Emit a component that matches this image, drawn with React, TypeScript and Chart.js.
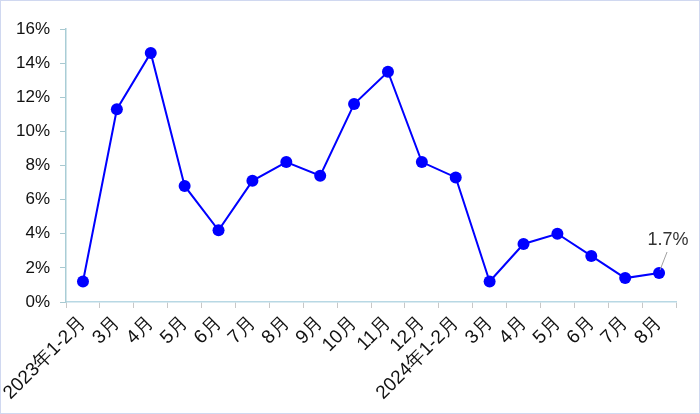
import React, { useEffect, useRef } from "react";
import { Chart, registerables } from "chart.js";

Chart.register(...registerables);

const categories = [
  "2023年1-2月", "3月", "4月", "5月", "6月", "7月", "8月", "9月", "10月", "11月", "12月",
  "2024年1-2月", "3月", "4月", "5月", "6月", "7月", "8月",
];
const growth = [1.2, 11.3, 14.6, 6.8, 4.2, 7.1, 8.2, 7.4, 11.6, 13.5, 8.2, 7.3, 1.2, 3.4, 4.0, 2.7, 1.4, 1.7];
const lastLabel = "1.7%";

const FONT = "'Liberation Sans', Arial, sans-serif";

const lastLabelPlugin = {
  id: "lastLabel",
  afterDatasetsDraw(chart: any) {
    const meta = chart.getDatasetMeta(0);
    const pt = meta.data[meta.data.length - 1];
    if (!pt) return;
    const { ctx } = chart;
    ctx.save();
    ctx.strokeStyle = "#a0a0a0";
    ctx.lineWidth = 1;
    ctx.beginPath();
    ctx.moveTo(pt.x + 1, pt.y - 3);
    ctx.lineTo(pt.x + 8, pt.y - 21);
    ctx.stroke();
    ctx.fillStyle = "#333";
    ctx.font = `18px ${FONT}`;
    ctx.textAlign = "center";
    ctx.textBaseline = "middle";
    ctx.fillText(lastLabel, pt.x + 9, pt.y - 33);
    ctx.restore();
  },
};

export default function App() {
  const ref = useRef<HTMLCanvasElement>(null);
  useEffect(() => {
    document.body.style.margin = "0";
    const chart = new Chart(ref.current!, {
      type: "line",
      data: {
        labels: categories,
        datasets: [
          {
            data: growth,
            borderColor: "#0000ff",
            backgroundColor: "#0000ff",
            borderWidth: 2,
            pointRadius: 6,
            pointBorderWidth: 0,
            pointBackgroundColor: "#0000ff",
            tension: 0,
          },
        ],
      },
      options: {
        animation: false,
        responsive: false,
        events: [],
        layout: { padding: { top: 28, right: 23, left: 0, bottom: 0 } },
        plugins: { legend: { display: false }, tooltip: { enabled: false } },
        scales: {
          x: {
            offset: true,
            grid: {
              display: true,
              offset: true,
              drawOnChartArea: false,
              drawTicks: true,
              tickLength: 6,
              color: "#c8c8c8",
            },
            border: { display: true, color: "#b8d8e4", width: 1.5 },
            ticks: {
              autoSkip: false,
              minRotation: 45,
              maxRotation: 45,
              color: "#111",
              padding: 4,
              font: { family: FONT, size: 19 },
            },
            afterFit: (s: any) => {
              s.height = 111;
            },
          },
          y: {
            min: 0,
            max: 16,
            grid: {
              display: true,
              drawOnChartArea: false,
              drawTicks: true,
              tickLength: 6,
              color: "#a9c9d0",
            },
            border: { display: true, color: "#a9cdd6", width: 1.5 },
            ticks: {
              stepSize: 2,
              color: "#111",
              padding: 10,
              font: { family: FONT, size: 17 },
              callback: (v: any) => v + "%",
            },
            afterFit: (s: any) => {
              s.width = 65;
            },
          },
        },
      },
      plugins: [lastLabelPlugin],
    });
    return () => chart.destroy();
  }, []);
  return (
    <div
      style={{
        width: 700,
        height: 414,
        boxSizing: "border-box",
        border: "1px solid #d0d8f0",
        background: "#fff",
        position: "relative",
      }}
    >
      <canvas ref={ref} width={698} height={412} style={{ display: "block" }} />
    </div>
  );
}
